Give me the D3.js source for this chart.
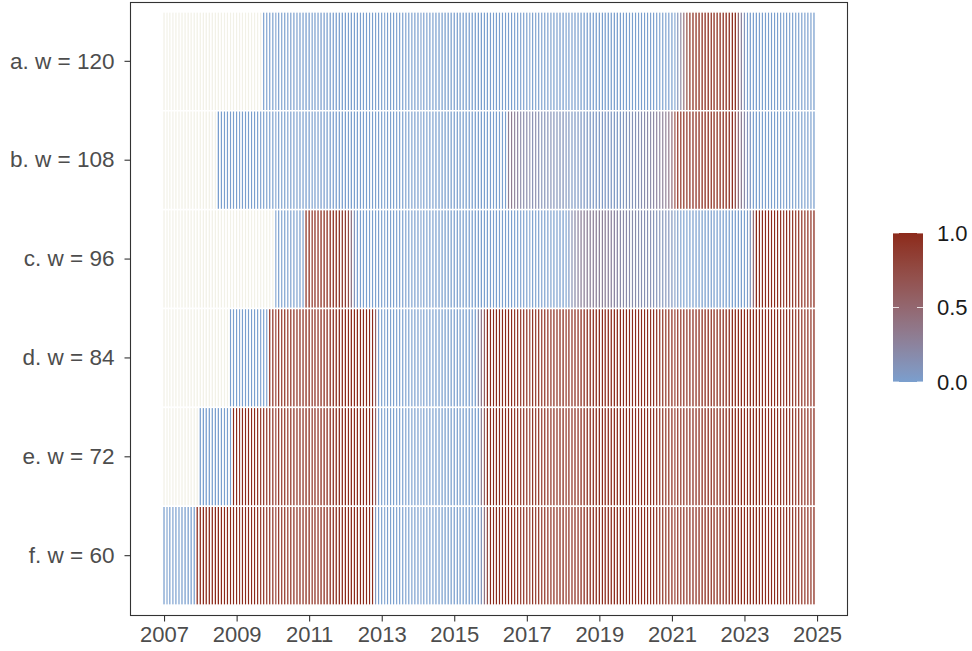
<!DOCTYPE html>
<html>
<head>
<meta charset="utf-8">
<script src="https://cdn.jsdelivr.net/npm/d3@7"></script>
<style>
  html, body { margin: 0; padding: 0; background: #fff; }
  svg { display: block; }
  text { font-family: "Liberation Sans", Arial, Helvetica, sans-serif; }
</style>
</head>
<body>
<svg id="chart" width="972" height="651"></svg>
<script>
// ---------------- DATA ----------------
const N = null;
const rowLabels = ["a. w = 120", "b. w = 108", "c. w = 96", "d. w = 84", "e. w = 72", "f. w = 60"];
const startYear = 2007, endYear = 2024;           // monthly tiles Jan 2007 .. Dec 2024
const xTickYears = [2007, 2009, 2011, 2013, 2015, 2017, 2019, 2021, 2023, 2025];
const legendTicks = [0, 0.5, 1];
const legendTickLabels = ["0.0", "0.5", "1.0"];

const valuesA = [
  N,N,N,N,N,N,N,N,N,N,N,N,            // 2007
  N,N,N,N,N,N,N,N,N,N,N,N,            // 2008
  N,N,N,N,N,N,N,N,N,0,0,0,            // 2009
  0,0,0,0,0,0,0,0,0,0,0,0,            // 2010
  0,0,0,0,0,0,0,0,0,0,0,0,            // 2011
  0,0,0,0,0,0,0,0,0,0,0,0,            // 2012
  0,0,0,0,0,0,0,0,0,0,0,0,            // 2013
  0,0,0,0,0,0,0,0,0,0,0,0,            // 2014
  0,0,0,0,0,0,0,0,0,0,0,0,            // 2015
  0,0,0,0,0,0,0,0,0,0,0,0,            // 2016
  0,0,0,0,0,0,0,0,0,0,0,0,            // 2017
  0,0,0,0,0,0,0,0,0,0,0,0,            // 2018
  0,0,0,0,0,0,0,0,0,0,0,0,            // 2019
  0,0,0,0,0,0,0,0,0,0,0,0,            // 2020
  0,0,0.1,0.25,0.45,0.8,0.95,1,1,1,1,1,     // 2021
  1,1,1,1,1,1,1,1,1,1,0.5,0.25,             // 2022
  0.1,0,0,0,0,0,0,0,0,0,0,0,          // 2023
  0,0,0,0,0,0,0,0,0,0,0,0             // 2024
];
const valuesB = [
  N,N,N,N,N,N,N,N,N,N,N,N,            // 2007
  N,N,N,N,N,N,0,0,0,0,0,0,            // 2008
  0,0,0,0,0,0,0,0,0,0,0,0,            // 2009
  0,0,0,0,0,0,0,0,0,0,0,0,            // 2010
  0,0,0,0,0,0,0,0,0,0,0,0,            // 2011
  0,0,0,0,0,0,0,0,0,0,0,0,            // 2012
  0,0,0,0,0,0,0,0,0,0,0,0,            // 2013
  0,0,0,0,0,0,0,0,0,0,0,0,            // 2014
  0,0,0,0,0,0,0,0,0,0,0,0,            // 2015
  0,0,0,0,0,0,0.3,0.32,0.28,0.25,0.2,0.18,              // 2016
  0.18,0.18,0.15,0.18,0.15,0.12,0.12,0.12,0.12,0.1,0.1,0.1, // 2017
  0.1,0.08,0.08,0.05,0.05,0.05,0.05,0.05,0.05,0.05,0.05,0.05, // 2018
  0.05,0.05,0.05,0.05,0.05,0.05,0.05,0.05,0.08,0.1,0.1,0.12, // 2019
  0.12,0.15,0.15,0.18,0.2,0.2,0.22,0.25,0.25,0.28,0.3,0.35,  // 2020
  0.45,0.85,1,1,1,1,1,1,1,1,1,1,      // 2021
  1,1,1,1,1,1,1,1,1,0.75,0.45,0.3,    // 2022
  0.2,0.1,0.05,0,0,0,0,0,0,0,0,0,     // 2023
  0,0,0,0,0,0,0,0,0,0,0,0             // 2024
];
const valuesC = [
  N,N,N,N,N,N,N,N,N,N,N,N,            // 2007
  N,N,N,N,N,N,N,N,N,N,N,N,            // 2008
  N,N,N,N,N,N,N,N,N,N,N,N,            // 2009
  N,0,0,0,0,0,0,0,0,0,0,0.9,          // 2010
  1,1,1,1,1,1,1,1,1,1,0.95,0.9,       // 2011
  0.85,0.75,0.4,0.1,0,0,0,0,0,0,0,0,  // 2012
  0,0,0,0,0,0,0,0,0,0,0,0,            // 2013
  0,0,0,0,0,0,0,0,0,0,0,0,            // 2014
  0,0,0,0,0,0,0,0,0,0,0,0,            // 2015
  0,0,0,0,0,0,0,0,0,0,0,0,            // 2016
  0,0,0,0,0,0,0,0,0,0,0,0,            // 2017
  0,0,0.05,0.15,0.2,0.25,0.28,0.28,0.28,0.28,0.28,0.28,    // 2018
  0.28,0.28,0.28,0.26,0.25,0.24,0.22,0.2,0.2,0.2,0.18,0.18, // 2019
  0.18,0.16,0.15,0.15,0.15,0.14,0.12,0.12,0.12,0.1,0.1,0.1, // 2020
  0.08,0.05,0.03,0,0,0,0,0,0,0,0,0,   // 2021
  0,0,0,0,0,0,0,0,0,0,0,0,            // 2022
  0,0.03,0.1,0.45,1,1,1,1,1,1,1,1,    // 2023
  1,1,1,1,1,1,1,1,1,1,1,1             // 2024
];
const valuesD = [
  N,N,N,N,N,N,N,N,N,N,N,N,            // 2007
  N,N,N,N,N,N,N,N,N,N,0,0,            // 2008
  0,0,0,0,0,0,0,0,0,0,0,1,            // 2009
  1,1,1,1,1,1,1,1,1,1,1,1,            // 2010
  1,1,1,1,1,1,1,1,1,1,1,1,            // 2011
  1,1,1,1,1,1,1,1,1,1,0.6,0,          // 2012
  0,0,0,0,0,0,0,0,0,0,0,0,            // 2013
  0,0,0,0,0,0,0,0,0,0,0,0,            // 2014
  0,0,0,0,0,0,0,0,0.2,0.35,0.6,1,     // 2015
  1,1,1,1,1,1,1,1,1,1,1,1,            // 2016
  1,1,1,1,1,1,1,1,1,1,1,1,            // 2017
  1,1,1,1,1,1,1,1,1,1,1,1,            // 2018
  1,1,1,1,1,1,1,1,1,1,1,1,            // 2019
  1,1,1,1,1,1,1,1,1,1,1,1,            // 2020
  1,1,1,1,1,1,1,1,1,1,1,1,            // 2021
  1,1,1,1,1,1,1,1,1,1,1,1,            // 2022
  1,1,1,1,1,1,1,1,1,1,1,1,            // 2023
  1,1,1,1,1,1,1,1,1,1,1,1             // 2024
];
const valuesE = [
  N,N,N,N,N,N,N,N,N,N,N,N,            // 2007
  0,0,0,0,0,0,0,0,0,0,0,1,            // 2008
  1,1,1,1,1,1,1,1,1,1,1,1,            // 2009
  1,1,1,1,1,1,1,1,1,1,1,1,            // 2010
  1,1,1,1,1,1,1,1,1,1,1,1,            // 2011
  1,1,1,1,1,1,1,1,1,1,0.6,0,          // 2012
  0,0,0,0,0,0,0,0,0,0,0,0,            // 2013
  0,0,0,0,0,0,0,0,0,0,0,0,            // 2014
  0,0,0,0,0,0,0,0,0,0.3,0.6,1,        // 2015
  1,1,1,1,1,1,1,1,1,1,1,1,            // 2016
  1,1,1,1,1,1,1,1,1,1,1,1,            // 2017
  1,1,1,1,1,1,1,1,1,1,1,1,            // 2018
  1,1,1,1,1,1,1,1,1,1,1,1,            // 2019
  1,1,1,1,1,1,1,1,1,1,1,1,            // 2020
  1,1,1,1,1,1,1,1,1,1,1,1,            // 2021
  1,1,1,1,1,1,1,1,1,1,1,1,            // 2022
  1,1,1,1,1,1,1,1,1,1,1,1,            // 2023
  1,1,1,1,1,1,1,1,1,1,1,1             // 2024
];
const valuesF = [
  0,0,0,0,0,0,0,0,0,0,0,1,            // 2007
  1,1,1,1,1,1,1,1,1,1,1,1,            // 2008
  1,1,1,1,1,1,1,1,1,1,1,1,            // 2009
  1,1,1,1,1,1,1,1,1,1,1,1,            // 2010
  1,1,1,1,1,1,1,1,1,1,1,1,            // 2011
  1,1,1,1,1,1,1,1,1,1,0.1,0,          // 2012
  0,0,0,0,0,0,0,0,0,0,0,0,            // 2013
  0,0,0,0,0,0,0,0,0,0,0,0,            // 2014
  0,0,0,0,0,0,0,0,0,0.1,0.4,0.75,     // 2015
  1,1,1,1,1,1,1,1,1,1,1,1,            // 2016
  1,1,1,1,1,1,1,1,1,1,1,1,            // 2017
  1,1,1,1,1,1,1,1,1,1,1,1,            // 2018
  1,1,1,1,1,1,1,1,1,1,1,1,            // 2019
  1,1,1,1,1,1,1,1,1,1,1,1,            // 2020
  1,1,1,1,1,1,1,1,1,1,1,1,            // 2021
  1,1,1,1,1,1,1,1,1,1,1,1,            // 2022
  1,1,1,1,1,1,1,1,1,1,1,1,            // 2023
  1,1,1,1,1,1,1,1,1,1,1,1             // 2024
];
const seriesValues = [valuesA, valuesB, valuesC, valuesD, valuesE, valuesF];

// ---------------- CHART ----------------
const svg = d3.select("#chart");
const panel = { left: 130, right: 848, top: 2, bottom: 615 };

const months = d3.timeMonth.range(new Date(startYear, 0, 1), new Date(endYear + 1, 0, 1));
const DAY = 864e5;
const halfW = 14 * DAY; // tile width = 28 days (ggplot resolution of monthly dates)

const dMin = +months[0] - halfW, dMax = +months[months.length - 1] + halfW;
const exp = (dMax - dMin) * 0.05;
const x = d3.scaleTime()
  .domain([new Date(dMin - exp), new Date(dMax + exp)])
  .range([panel.left, panel.right]);

const y = d3.scaleBand()
  .domain(rowLabels)
  .range([panel.top, panel.bottom])
  .paddingInner(0)
  .paddingOuter(0.1);

const lowCol = "#7a9fce", highCol = "#8c2a1b", naCol = "#f2f1e7";
const color = d3.scaleLinear().domain([0, 1]).range([lowCol, highCol]).interpolate(d3.interpolateLab).clamp(true);

const cells = [];
rowLabels.forEach((r, i) => {
  seriesValues[i].forEach((v, j) => {
    cells.push({ row: r, date: months[j], value: v });
  });
});

const gTiles = svg.append("g");
gTiles.selectAll("rect")
  .data(cells)
  .join("rect")
  .attr("x", d => x(new Date(+d.date - halfW)))
  .attr("width", d => x(new Date(+d.date + halfW)) - x(new Date(+d.date - halfW)))
  .attr("y", d => y(d.row))
  .attr("height", y.bandwidth())
  .attr("fill", d => d.value == null ? naCol : color(d.value))
  .attr("stroke", "#ffffff")
  .attr("stroke-width", 1.5);

// panel border
svg.append("rect")
  .attr("x", panel.left + 0.5).attr("y", panel.top + 0.5)
  .attr("width", panel.right - panel.left - 1).attr("height", panel.bottom - panel.top)
  .attr("fill", "none").attr("stroke", "#333333").attr("stroke-width", 1.1);

// x axis
const xAxis = d3.axisBottom(x)
  .tickValues(xTickYears.map(yr => new Date(yr, 0, 1)))
  .tickFormat(d3.timeFormat("%Y"))
  .tickSize(6).tickSizeOuter(0).tickPadding(5);
const gx = svg.append("g").attr("transform", `translate(0,${panel.bottom + 0.5})`).call(xAxis);
gx.select(".domain").remove();
gx.selectAll(".tick line").attr("stroke", "#333333").attr("stroke-width", 1.1);
gx.selectAll(".tick text").attr("fill", "#4d4d4d").attr("font-size", 22).attr("dy", "0.71em");

// y axis
const yAxis = d3.axisLeft(y).tickSize(6).tickSizeOuter(0).tickPadding(10);
const gy = svg.append("g").attr("transform", `translate(${panel.left + 0.5},0)`).call(yAxis);
gy.select(".domain").remove();
gy.selectAll(".tick line").attr("stroke", "#333333").attr("stroke-width", 1.1);
gy.selectAll(".tick text").attr("fill", "#4d4d4d").attr("font-size", 22.5);

// legend colorbar
const leg = { x: 893, y: 233, w: 30, h: 149 };
const defs = svg.append("defs");
const grad = defs.append("linearGradient").attr("id", "cbar")
  .attr("x1", 0).attr("y1", 1).attr("x2", 0).attr("y2", 0);
d3.range(0, 1.0001, 0.05).forEach(t => {
  grad.append("stop").attr("offset", t).attr("stop-color", color(t));
});
svg.append("rect").attr("x", leg.x).attr("y", leg.y).attr("width", leg.w).attr("height", leg.h)
  .attr("fill", "url(#cbar)");
const ly = d3.scaleLinear().domain([0, 1]).range([leg.y + leg.h, leg.y]);
const gl = svg.append("g");
legendTicks.forEach((t, i) => {
  gl.append("line").attr("x1", leg.x).attr("x2", leg.x + 6).attr("y1", ly(t)).attr("y2", ly(t))
    .attr("stroke", "#ffffff").attr("stroke-width", 1).attr("stroke-opacity", 0.8);
  gl.append("line").attr("x1", leg.x + leg.w - 6).attr("x2", leg.x + leg.w).attr("y1", ly(t)).attr("y2", ly(t))
    .attr("stroke", "#ffffff").attr("stroke-width", 1).attr("stroke-opacity", 0.8);
  gl.append("text").attr("x", leg.x + leg.w + 14).attr("y", ly(t)).attr("dy", "0.35em")
    .attr("font-size", 22).attr("fill", "#1a1a1a").text(legendTickLabels[i]);
});
</script>
</body>
</html>
